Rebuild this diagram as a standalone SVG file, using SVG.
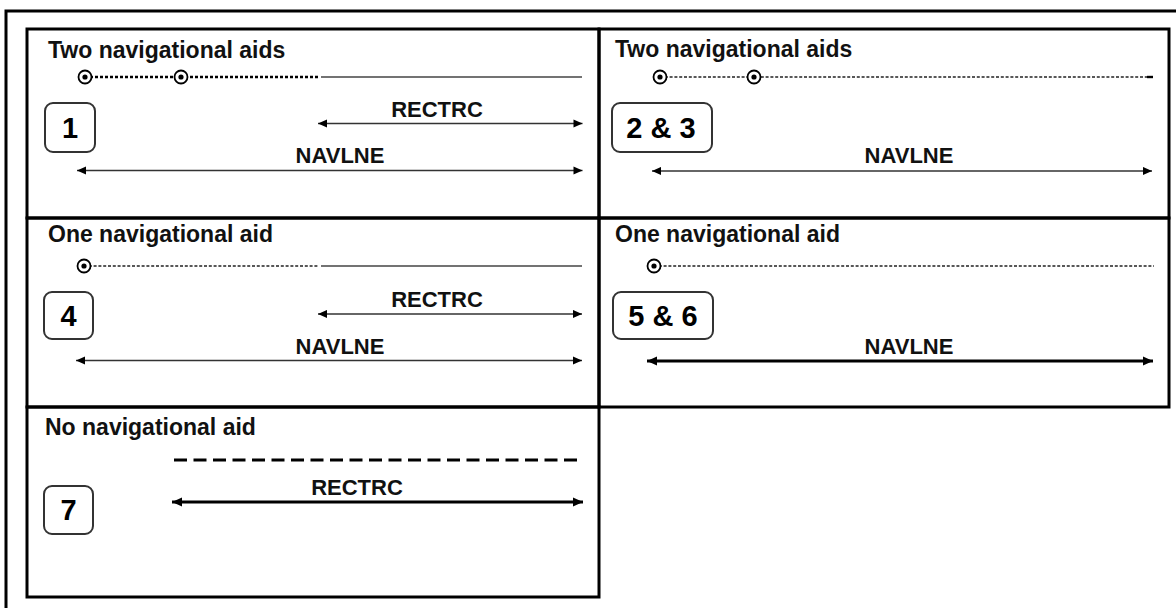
<svg xmlns="http://www.w3.org/2000/svg" width="1176" height="608" viewBox="0 0 1176 608">
<style>
.frame{fill:none;stroke:#000;stroke-width:3}
.title{font-family:"Liberation Sans",Arial,sans-serif;font-weight:bold;font-size:23px;fill:#111}
.lbl{font-family:"Liberation Sans",Arial,sans-serif;font-weight:bold;font-size:22px;fill:#111;text-anchor:middle}
.num{font-family:"Liberation Sans",Arial,sans-serif;font-weight:bold;font-size:29px;fill:#000;text-anchor:middle}
.box{fill:#fff;stroke:#333;stroke-width:2}
.arr{stroke:#333;stroke-width:1.6;fill:none;marker-start:url(#ah);marker-end:url(#ah)}
.arrb{stroke:#000;stroke-width:3;fill:none;marker-start:url(#ahb);marker-end:url(#ahb)}
.dotA{stroke:#000;stroke-width:2.4;stroke-dasharray:3 2;fill:none}
.dotB{stroke:#222;stroke-width:1.4;stroke-dasharray:3 1.8;fill:none}
.solid{stroke:#444;stroke-width:1.6;fill:none}
.dash{stroke:#000;stroke-width:3;stroke-dasharray:13 6.5;fill:none}
.aidO{fill:#fff;stroke:#000;stroke-width:1.8}
.aidI{fill:#000}
</style>
<defs>
<marker id="ah" viewBox="0 0 10 10" refX="10" refY="5" markerWidth="10" markerHeight="9" markerUnits="userSpaceOnUse" orient="auto-start-reverse"><path d="M0,0.5 L10,5 L0,9.5 Z" fill="#000"/></marker>
<marker id="ahb" viewBox="0 0 10 10" refX="10" refY="5" markerWidth="12" markerHeight="10" markerUnits="userSpaceOnUse" orient="auto-start-reverse"><path d="M0,0.5 L10,5 L0,9.5 Z" fill="#000"/></marker>
<symbol id="aid" overflow="visible"><circle class="aidO" cx="0" cy="0" r="6.5"/><circle class="aidI" cx="0" cy="0" r="2.6"/></symbol>
</defs>
<rect width="1176" height="608" fill="#fff"/>
<path d="M6,610 V11 H1180" fill="none" stroke="#000" stroke-width="3"/>

<g id="panel-1">
<rect class="frame" x="27" y="29" width="572" height="189"/>
<text class="title" x="48" y="58">Two navigational aids</text>
<rect class="box" x="45" y="103" width="50" height="49" rx="8"/>
<text class="num" x="70" y="138">1</text>
<text class="lbl" x="437" y="117">RECTRC</text>
<text class="lbl" x="340" y="163">NAVLNE</text>
</g>
<g id="panel-2">
<rect class="frame" x="599" y="29" width="570" height="189"/>
<text class="title" x="615" y="57">Two navigational aids</text>
<rect class="box" x="612" y="103" width="100" height="49" rx="8"/>
<text class="num" x="661" y="138">2 &amp; 3</text>
<text class="lbl" x="909" y="163">NAVLNE</text>
</g>
<g id="panel-4">
<rect class="frame" x="27" y="218" width="572" height="189"/>
<text class="title" x="48" y="242">One navigational aid</text>
<rect class="box" x="44" y="292" width="49" height="47" rx="8"/>
<text class="num" x="68.5" y="326">4</text>
<text class="lbl" x="437" y="307">RECTRC</text>
<text class="lbl" x="340" y="354">NAVLNE</text>
</g>
<g id="panel-5">
<rect class="frame" x="599" y="218" width="570" height="189"/>
<text class="title" x="615" y="242">One navigational aid</text>
<rect class="box" x="613" y="292" width="100" height="47" rx="8"/>
<text class="num" x="663" y="326">5 &amp; 6</text>
<text class="lbl" x="909" y="354">NAVLNE</text>
</g>
<g id="panel-7">
<rect class="frame" x="27" y="407" width="572" height="190"/>
<text class="title" x="45" y="435">No navigational aid</text>
<rect class="box" x="44" y="486" width="49" height="48" rx="8"/>
<text class="num" x="68.5" y="520">7</text>
<text class="lbl" x="357" y="495">RECTRC</text>
</g>

<g id="connectors">
<!-- panel 1 -->
<path class="dotA" d="M85,77 H320"/>
<path class="solid" d="M321,77 H582"/>
<use href="#aid" x="85" y="77"/>
<use href="#aid" x="181" y="77"/>
<path class="arr" d="M318,123.5 H582.5"/>
<path class="arr" d="M77,170.5 H582.5"/>
<!-- panel 2 -->
<path class="dotB" d="M660,77 H1148"/>
<path d="M1147,77 H1153" stroke="#000" stroke-width="2.4"/>
<use href="#aid" x="660" y="77"/>
<use href="#aid" x="754" y="77"/>
<path class="arr" d="M652,171 H1152"/>
<!-- panel 4 -->
<path class="dotB" d="M84,266 H318"/>
<path class="solid" d="M321,266 H582"/>
<use href="#aid" x="84" y="266"/>
<path class="arr" d="M318,314 H582"/>
<path class="arr" d="M76,360.5 H582"/>
<!-- panel 5 -->
<path class="dotB" d="M654,266 H1154"/>
<use href="#aid" x="654" y="266"/>
<path class="arrb" d="M647,361 H1153"/>
<!-- panel 7 -->
<path class="dash" d="M174,460 H583"/>
<path class="arrb" d="M172,502 H583"/>
</g>
</svg>
